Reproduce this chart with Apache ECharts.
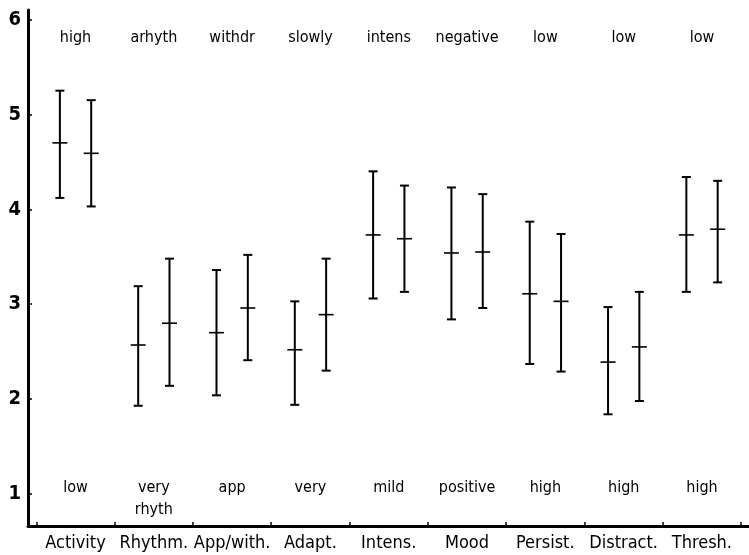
<!DOCTYPE html>
<html>
<head>
<meta charset="utf-8">
<script src="https://cdn.jsdelivr.net/npm/echarts@6/dist/echarts.min.js"></script>
<style>html,body{margin:0;padding:0;background:#fff;}#c{width:749px;height:555px;}</style>
</head>
<body>
<div id="c"></div>
<script>
var categories = ['Activity','Rhythm.','App/with.','Adapt.','Intens.','Mood','Persist.','Distract.','Thresh.'];
var topLabels = ['high','arhyth','withdr','slowly','intens','negative','low','low','low'];
var bottomLabels = ['low','very\nrhyth','app','very','mild','positive','high','high','high'];
var g1Mean = [4.70,2.57,2.70,2.52,3.73,3.54,3.11,2.39,3.73];
var g1High = [5.25,3.19,3.36,3.03,4.40,4.23,3.87,2.97,4.34];
var g1Low  = [4.12,1.93,2.04,1.94,3.06,2.84,2.37,1.84,3.13];
var g2Mean = [4.59,2.80,2.96,2.89,3.69,3.55,3.03,2.55,3.79];
var g2High = [5.15,3.48,3.52,3.48,4.25,4.16,3.74,3.13,4.30];
var g2Low  = [4.03,2.14,2.41,2.30,3.13,2.96,2.29,1.98,3.23];
var yTicks = [1,2,3,4,5,6];

var FONT = "'DejaVu Sans Condensed','Liberation Sans Narrow','DejaVu Sans',sans-serif";
var OFF = 0.2;

function barData(mean, hi, lo, shift){
  return categories.map(function(c,i){ return [i+shift, mean[i], hi[i], lo[i]]; });
}
function renderBar(params, api){
  var x = api.value(0);
  var m = api.coord([x, api.value(1)]);
  var h = api.coord([x, api.value(2)]);
  var l = api.coord([x, api.value(3)]);
  var st = {stroke:'#000', lineWidth:2};
  return {type:'group', children:[
    {type:'line', shape:{x1:h[0],y1:h[1],x2:l[0],y2:l[1]}, style:st},
    {type:'line', shape:{x1:h[0]-4.5,y1:h[1],x2:h[0]+4.5,y2:h[1]}, style:st},
    {type:'line', shape:{x1:l[0]-4.5,y1:l[1],x2:l[0]+4.5,y2:l[1]}, style:st},
    {type:'line', shape:{x1:m[0]-7.5,y1:m[1],x2:m[0]+7.5,y2:m[1]}, style:{stroke:'#000', lineWidth:1.6}}
  ]};
}
function textData(labels, yv){
  return labels.map(function(t,i){ return [i, yv, t]; });
}
function renderText(vAlign){
  return function(params, api){
    var p = api.coord([api.value(0), api.value(1)]);
    return {type:'text', x:p[0], y:p[1], style:{
      text: labels_for(params.seriesIndex)[params.dataIndex],
      fontFamily: FONT, fontSize:16, fill:'#000', align:'center', verticalAlign:vAlign, lineHeight:22
    }};
  };
}
function labels_for(si){ return si === 2 ? topLabels : bottomLabels; }

var chart = echarts.init(document.getElementById('c'), null, {renderer:'canvas'});
chart.setOption({
  animation:false,
  backgroundColor:'#fff',
  grid:[
    {left:28, right:0, top:10, bottom:29},
    {left:36.35, right:7.95, top:10, bottom:29}
  ],
  xAxis:[
    {type:'value', gridIndex:0, min:-0.607, max:8.60,
     axisLine:{show:true, onZero:false, lineStyle:{color:'#000', width:3}},
     axisTick:{show:false}, axisLabel:{show:false}, splitLine:{show:false}},
    {type:'category', gridIndex:1, data:categories, boundaryGap:true,
     axisLine:{show:false},
     axisTick:{show:true, inside:true, length:4, lineStyle:{color:'#000', width:1.5}},
     axisLabel:{color:'#000', fontFamily:FONT, fontSize:18, margin:8, interval:0},
     splitLine:{show:false}}
  ],
  yAxis:[
    {type:'value', gridIndex:0, min:0.663, max:6.1,
     axisLine:{show:true, onZero:false, lineStyle:{color:'#000', width:3}},
     axisTick:{show:true, inside:true, length:4, lineStyle:{color:'#000', width:1.5},
       customValues: yTicks},
     axisLabel:{color:'#000', fontFamily:FONT, fontSize:20, fontWeight:'bold', margin:7, customValues: yTicks,
       formatter:function(v){ return String(Math.round(v)); }},
     splitLine:{show:false}},
    {type:'value', gridIndex:1, min:0.663, max:6.1, show:false}
  ],
  series:[
    {type:'custom', xAxisIndex:0, yAxisIndex:0, renderItem:renderBar, data:barData(g1Mean,g1High,g1Low,-OFF)},
    {type:'custom', xAxisIndex:0, yAxisIndex:0, renderItem:renderBar, data:barData(g2Mean,g2High,g2Low,OFF)},
    {type:'custom', xAxisIndex:0, yAxisIndex:0, renderItem:renderText('middle'), data:textData(topLabels,5.81)},
    {type:'custom', xAxisIndex:0, yAxisIndex:0, renderItem:renderText('top'), data:textData(bottomLabels,1.18)}
  ]
});
</script>
</body>
</html>
